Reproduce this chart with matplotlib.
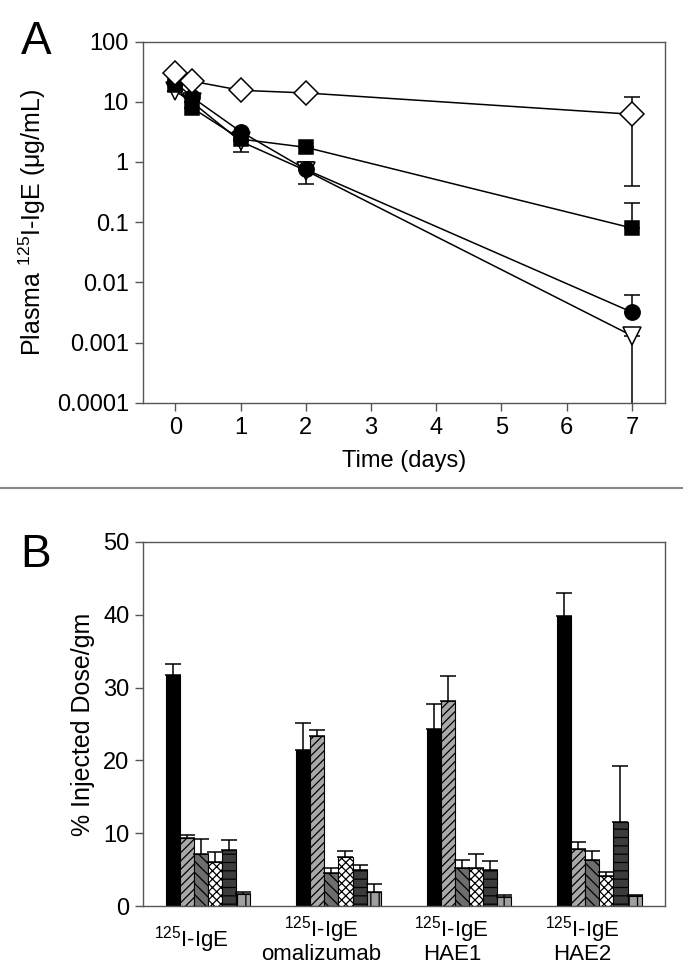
import matplotlib
matplotlib.use("Agg")
import matplotlib.pyplot as plt
import numpy as np

plt.rcParams['font.family'] = ['Liberation Sans', 'DejaVu Sans']
plt.rcParams['mathtext.fontset'] = 'custom'
plt.rcParams['mathtext.rm'] = 'Liberation Sans'
plt.rcParams['mathtext.it'] = 'Liberation Sans:italic'
plt.rcParams['hatch.linewidth'] = 0.9

# ---------------- Panel A data ----------------
days = [0, 0.25, 1, 2, 7]
diamond_vals = [30, 22, 15.5, 14, 6.2]
diamond_err_lo = [0, 0, 0, 0, 5.8]
diamond_err_hi = [0, 0, 0, 0, 5.8]
square_vals = [19, 8, 2.4, 1.75, 0.08]
square_err_lo = [0, 0, 0, 0, 0]
square_err_hi = [0, 0, 0, 0, 0.13]
circle_vals = [21, 12, 3.2, 0.75, 0.0032]
circle_err_lo = [0, 0, 0, 0, 0]
circle_err_hi = [0, 0, 0, 0, 0.003]
triangle_vals = [15, 10, 2.2, 0.72, 0.0013]
triangle_err_lo = [0, 0, 0.75, 0.29, 0.0013]
triangle_err_hi = [0, 0, 0, 0.29, 0]

yticks_a = [0.0001, 0.001, 0.01, 0.1, 1, 10, 100]
yticklabels_a = ['0.0001', '0.001', '0.01', '0.1', '1', '10', '100']
xticks_a = [0, 1, 2, 3, 4, 5, 6, 7]

# ---------------- Panel B data ----------------
categories = ['$^{125}$I-IgE', '$^{125}$I-IgE\nomalizumab', '$^{125}$I-IgE\nHAE1', '$^{125}$I-IgE\nHAE2']
s1 = [31.7, 21.5, 24.3, 39.8]
s1_err = [1.5, 3.6, 3.4, 3.2]
s2 = [9.3, 23.3, 28.2, 7.8]
s2_err = [0.5, 0.9, 3.4, 1.0]
s3 = [7.2, 4.5, 5.3, 6.3]
s3_err = [2.0, 0.8, 1.0, 1.2]
s4 = [6.0, 6.7, 5.3, 4.1]
s4_err = [1.4, 0.9, 1.9, 0.6]
s5 = [7.7, 5.0, 5.0, 11.6]
s5_err = [1.4, 0.7, 1.2, 7.6]
s6 = [1.6, 2.0, 1.3, 1.4]
s6_err = [0.3, 1.0, 0.2, 0.1]

fig = plt.figure(figsize=(6.83, 9.66), dpi=100)

# ---------------- Panel A ----------------
axA = fig.add_axes([0.209, 0.583, 0.764, 0.374])
axA.set_yscale('log')
ebkw = dict(color='black', lw=1.1, capsize=6, capthick=1.1, elinewidth=1.1, zorder=3)
def plot_series(vals, lo, hi, marker, fc, ms):
    axA.errorbar(days, vals, yerr=[lo, hi], marker=marker, mfc=fc, mec='black', ms=ms,
                 mew=1.1, **ebkw)

plot_series(triangle_vals, triangle_err_lo, triangle_err_hi, 'v', 'white', 13)
plot_series(circle_vals, circle_err_lo, circle_err_hi, 'o', 'black', 11)
plot_series(square_vals, square_err_lo, square_err_hi, 's', 'black', 10)
plot_series(diamond_vals, diamond_err_lo, diamond_err_hi, 'D', 'white', 12)

axA.set_ylim(0.0001, 100)
axA.set_yticks(yticks_a)
axA.set_yticklabels(yticklabels_a)
axA.yaxis.set_minor_locator(matplotlib.ticker.NullLocator())
axA.set_xlim(-0.5, 7.5)
axA.set_xticks(xticks_a)
axA.tick_params(axis='both', direction='out', length=6, width=1, color='#555555',
                labelsize=17, pad=4)
for s in axA.spines.values():
    s.set_color('#555555')
    s.set_linewidth(1)
axA.set_xlabel('Time (days)', fontsize=17, labelpad=8)
axA.set_ylabel('Plasma $^{125}$I-IgE (μg/mL)', fontsize=18, labelpad=6)

fig.text(0.03, 0.957, 'A', fontsize=33, ha='left', va='center')

# divider line
fig.add_artist(plt.Line2D([0, 1], [0.495, 0.495], color='#888888', lw=1.5,
                          transform=fig.transFigure))

# ---------------- Panel B ----------------
axB = fig.add_axes([0.209, 0.062, 0.764, 0.377])
x = np.arange(len(categories))
w = 0.108
series = [
    (s1, s1_err, 'black', None),
    (s2, s2_err, '#a8a8a8', '////'),
    (s3, s3_err, '#6e6e6e', '\\\\\\'),
    (s4, s4_err, 'white', 'xxxx'),
    (s5, s5_err, '#3c3c3c', '--'),
    (s6, s6_err, '#a0a0a0', '||'),
]
n = len(series)
for i, (vals, err, fc, hatch) in enumerate(series):
    pos = x + (i - (n - 1) / 2) * w
    axB.bar(pos, vals, width=w, color=fc, edgecolor='black', linewidth=0.8,
            hatch=hatch, zorder=2)
    axB.errorbar(pos, vals, yerr=[np.zeros(len(err)), err], fmt='none',
                 ecolor='black', elinewidth=1.1, capsize=6, capthick=1.1, zorder=3)

axB.set_xlim(-0.5, 3.5)
axB.set_ylim(0, 50)
axB.set_yticks([0, 10, 20, 30, 40, 50])
axB.set_xticks(x - 0.13)
axB.set_xticklabels(categories, fontsize=16, linespacing=0.95)
for lbl in axB.get_xticklabels():
    lbl.set_va('center')
axB.tick_params(axis='x', length=0, pad=24)
axB.tick_params(axis='y', direction='out', length=6, width=1, color='#555555',
                labelsize=17)
for s in axB.spines.values():
    s.set_color('#555555')
    s.set_linewidth(1)
axB.set_ylabel('% Injected Dose/gm', fontsize=18, labelpad=6)

fig.text(0.03, 0.425, 'B', fontsize=33, ha='left', va='center')

fig.savefig('out.png', dpi=100)
